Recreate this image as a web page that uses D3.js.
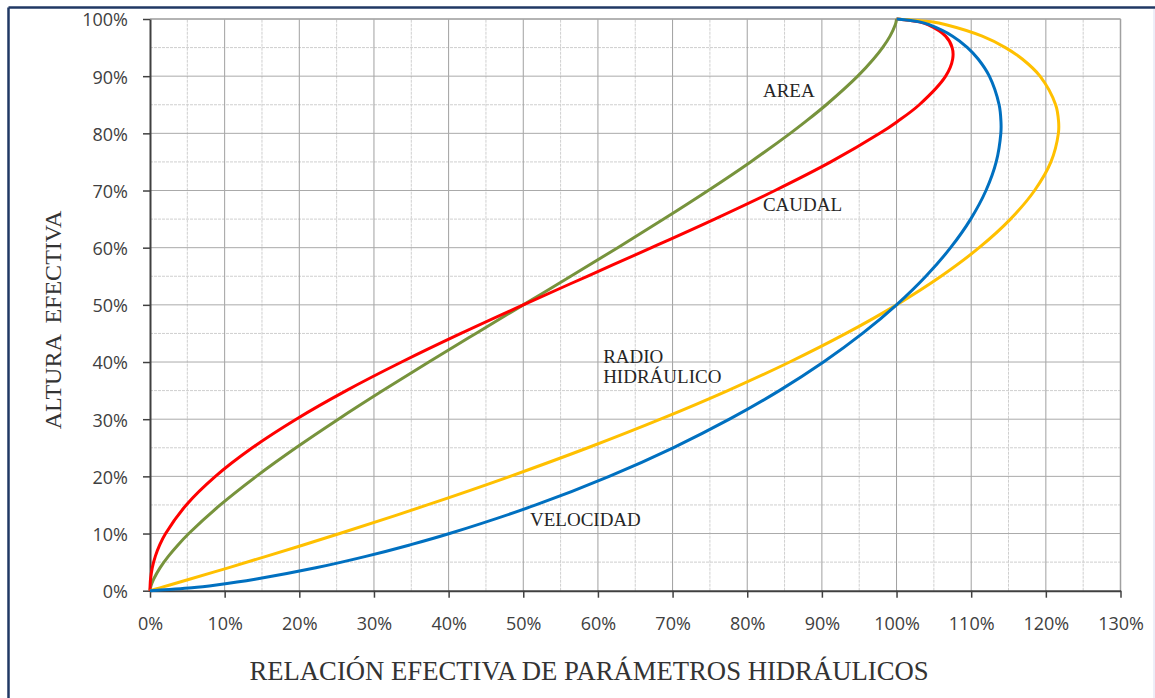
<!DOCTYPE html>
<html>
<head>
<meta charset="utf-8">
<script src="https://cdn.jsdelivr.net/npm/d3@7"></script>
<style>
    body { margin: 0; background: #fff; }
    svg { display: block; }
</style>
</head>
<body>
<script>

// altura efectiva (h/D), %
var altura = [0, 0.5, 1, 2, 4, 6, 8, 10, 15, 20, 25, 30, 35, 40, 45, 50, 55, 60, 65, 70, 75, 80, 82, 85, 90, 93, 95, 97, 99, 99.5, 100];

// relaciones, %
var area = [0, 0.06, 0.17, 0.48, 1.34, 2.45, 3.75, 5.2, 9.41, 14.24, 19.55, 25.23, 31.19, 37.35, 43.65, 50, 56.36, 62.65, 68.81, 74.77, 80.45, 85.76, 87.76, 90.59, 94.8, 96.92, 98.13, 99.13, 99.83, 99.94, 100];
var radio = [0, 1.33, 2.65, 5.28, 10.47, 15.55, 20.53, 25.41, 37.15, 48.24, 58.65, 68.38, 77.4, 85.69, 93.23, 100, 105.96, 111.06, 115.26, 118.49, 120.68, 121.68, 121.71, 121.31, 119.22, 116.84, 114.58, 111.48, 106.63, 104.66, 100];
var velocidad = [0, 5.61, 8.89, 14.08, 22.21, 28.91, 34.8, 40.12, 51.68, 61.51, 70.07, 77.62, 84.3, 90.22, 95.44, 100, 103.93, 107.24, 109.93, 111.98, 113.35, 113.97, 113.99, 113.74, 112.43, 110.93, 109.5, 107.51, 104.37, 103.08, 100];
var caudal = [0, 0.003, 0.02, 0.07, 0.3, 0.71, 1.3, 2.09, 4.86, 8.76, 13.7, 19.58, 26.29, 33.7, 41.65, 50, 58.57, 67.18, 75.64, 83.72, 91.19, 97.75, 100.04, 103.05, 106.58, 107.52, 107.45, 106.57, 104.2, 103.02, 100];

var xTicks = d3.range(0, 131, 10);
var yTicks = d3.range(0, 101, 10);

var series = [
    {name: "area", values: area, color: "#77933c"},
    {name: "caudal", values: caudal, color: "#ff0000"},
    {name: "radio", values: radio, color: "#ffc000"},
    {name: "velocidad", values: velocidad, color: "#0070c0"}
];

// posición de las etiquetas en % de los ejes
var labels = [
    {lines: ["AREA"], x: 82.1, y: 86.4},
    {lines: ["CAUDAL"], x: 82.1, y: 66.4},
    {lines: ["RADIO", "HIDRÁULICO"], x: 60.7, y: 39.8},
    {lines: ["VELOCIDAD"], x: 50.9, y: 11.3}
];

var width = 1155, height = 698;
var margin = {top: 19, right: 34.5, bottom: 107.3, left: 150};

var svg = d3.select("body").append("svg")
    .attr("width", width)
    .attr("height", height);

// marco
svg.append("line").attr("x1", 8.5).attr("x2", width).attr("y1", 7.5).attr("y2", 7.5)
    .style("stroke", "#203864").style("stroke-width", 2.5);
svg.append("line").attr("x1", 8.5).attr("x2", 8.5).attr("y1", 7.5).attr("y2", height)
    .style("stroke", "#203864").style("stroke-width", 2.5);
svg.append("line").attr("x1", 1154).attr("x2", 1154).attr("y1", 9).attr("y2", height)
    .style("stroke", "#dcdcf0").style("stroke-width", 1);

var x = d3.scaleLinear().domain([0, 130]).range([margin.left, width - margin.right]);
var y = d3.scaleLinear().domain([0, 100]).range([height - margin.bottom, margin.top]);

var grid = svg.append("g");

// rejilla menor cada 5%
grid.selectAll(".vmin").data(d3.range(5, 130, 10)).enter().append("line")
    .attr("x1", function(d) { return x(d) }).attr("x2", function(d) { return x(d) })
    .attr("y1", y(0)).attr("y2", y(100))
    .style("stroke", "#cfcfcf").style("stroke-width", 1).style("stroke-dasharray", "3,1");
grid.selectAll(".hmin").data(d3.range(5, 100, 10)).enter().append("line")
    .attr("x1", x(0)).attr("x2", x(130))
    .attr("y1", function(d) { return y(d) }).attr("y2", function(d) { return y(d) })
    .style("stroke", "#cfcfcf").style("stroke-width", 1).style("stroke-dasharray", "3,1");

// rejilla mayor cada 10%
grid.selectAll(".vmaj").data(xTicks.slice(1)).enter().append("line")
    .attr("x1", function(d) { return x(d) }).attr("x2", function(d) { return x(d) })
    .attr("y1", y(0)).attr("y2", y(100))
    .style("stroke", "#a0a0a0").style("stroke-width", 1);
grid.selectAll(".hmaj").data(yTicks.slice(1)).enter().append("line")
    .attr("x1", x(0)).attr("x2", x(130))
    .attr("y1", function(d) { return y(d) }).attr("y2", function(d) { return y(d) })
    .style("stroke", "#aaaaaa").style("stroke-width", 1);

// borde del área de trazado
svg.append("line").attr("x1", x(130)).attr("x2", x(130)).attr("y1", y(0)).attr("y2", y(100))
    .style("stroke", "#a0a0a0").style("stroke-width", 1.5);
svg.append("line").attr("x1", x(0)).attr("x2", x(130)).attr("y1", y(100)).attr("y2", y(100))
    .style("stroke", "#a8a8a8").style("stroke-width", 1.5);

var pct = function(d) { return d + "%" };

var yAxis = svg.append("g")
    .attr("transform", "translate(" + x(0) + ",0)")
    .call(d3.axisLeft(y).tickValues(yTicks).tickFormat(pct).tickSize(7).tickSizeOuter(0).tickPadding(15));

var xAxis = svg.append("g")
    .attr("transform", "translate(0," + y(0) + ")")
    .call(d3.axisBottom(x).tickValues(xTicks).tickFormat(pct).tickSize(7).tickSizeOuter(0).tickPadding(20));

[xAxis, yAxis].forEach(function(a) {
    a.select(".domain").style("stroke", "#404040").style("stroke-width", 2);
    a.selectAll(".tick line").style("stroke", "#404040").style("stroke-width", 1.5);
    a.selectAll(".tick text")
        .style("font-family", "'Open Sans', sans-serif")
        .style("font-size", "18px")
        .style("fill", "#404040");
});
yAxis.selectAll(".tick text").attr("dy", "0.38em");

// curvas
var line = d3.line()
    .x(function(d) { return x(d[0]) })
    .y(function(d) { return y(d[1]) })
    .curve(d3.curveCatmullRom.alpha(0.5));

svg.selectAll(".curva").data(series).enter().append("path")
    .attr("class", "curva")
    .attr("d", function(s) {
        return line(s.values.map(function(v, i) { return [v, altura[i]] }));
    })
    .style("fill", "none")
    .style("stroke", function(s) { return s.color })
    .style("stroke-width", 3)
    .style("stroke-linejoin", "round");

// etiquetas de curvas
var serif = "'Liberation Serif', 'Times New Roman', serif";

svg.selectAll(".etiqueta").data(labels).enter().append("text")
    .attr("class", "etiqueta")
    .attr("x", function(d) { return x(d.x) })
    .attr("y", function(d) { return y(d.y) })
    .style("font-family", serif)
    .style("font-size", "19px")
    .style("fill", "#262626")
    .each(function(d) {
        var t = d3.select(this);
        d.lines.forEach(function(l, i) {
            t.append("tspan")
                .attr("x", x(d.x))
                .attr("dy", i == 0 ? 0 : "1.05em")
                .text(l);
        });
    });

// títulos de ejes
svg.append("text")
    .attr("x", 589)
    .attr("y", 680)
    .attr("text-anchor", "middle")
    .style("font-family", serif)
    .style("font-size", "26.7px")
    .style("fill", "#333")
    .text("RELACIÓN EFECTIVA DE PARÁMETROS HIDRÁULICOS");

svg.append("text")
    .attr("transform", "translate(61,320) rotate(-90)")
    .attr("text-anchor", "middle")
    .style("font-family", serif)
    .style("font-size", "24px")
    .style("fill", "#333")
    .style("white-space", "pre")
    .text("ALTURA  EFECTIVA");

</script>
</body>
</html>
